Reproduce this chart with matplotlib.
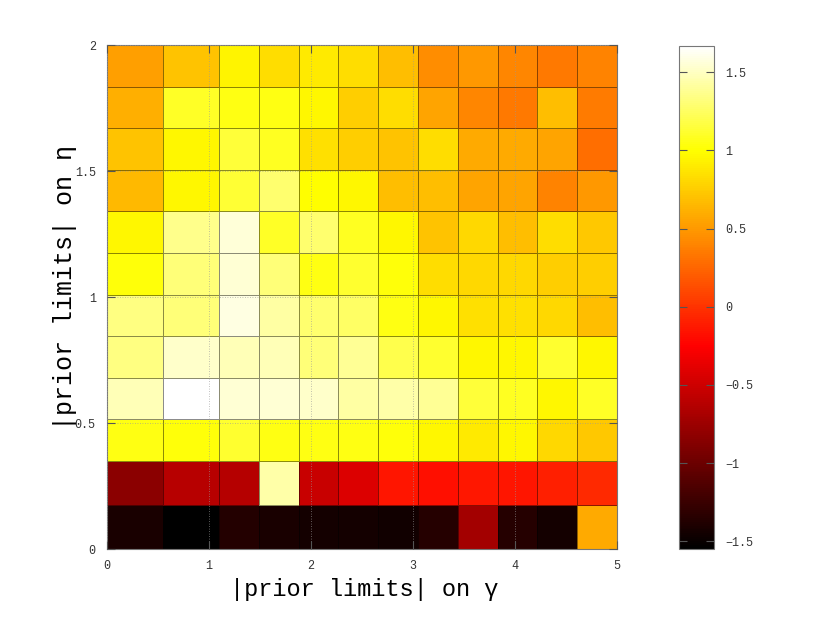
import numpy as np
import matplotlib
matplotlib.use("Agg")
import matplotlib.pyplot as plt
from matplotlib.colors import LinearSegmentedColormap, Normalize

# cell edges
gamma_edges = [0, 0.55, 1.1, 1.49, 1.88, 2.27, 2.66, 3.05, 3.44, 3.83, 4.22, 4.61, 5.0]
eta_edges = [0, 0.175, 0.35, 0.515, 0.68, 0.845, 1.01, 1.175, 1.34, 1.505, 1.67, 1.835, 2.0]

# values, bottom row first (eta 0 -> 2), columns gamma 0 -> 5
row0 = [-1.42, -1.55, -1.37, -1.42, -1.44, -1.44, -1.45, -1.35, -0.71, -1.35, -1.44, 0.58]
row1 = [-0.84, -0.61, -0.63, 1.44, -0.53, -0.43, -0.15, -0.18, -0.13, -0.15, -0.10, -0.05]
row2 = [1.05, 1.02, 1.12, 1.05, 1.05, 1.05, 1.02, 0.96, 0.90, 0.96, 0.80, 0.73]
row3 = [1.47, 1.667, 1.55, 1.55, 1.52, 1.42, 1.44, 1.39, 1.15, 1.08, 0.96, 1.10]
row4 = [1.33, 1.52, 1.47, 1.47, 1.31, 1.39, 1.20, 1.12, 0.96, 0.96, 1.12, 0.96]
row5 = [1.33, 1.31, 1.58, 1.42, 1.28, 1.26, 1.05, 0.96, 0.85, 0.85, 0.80, 0.68]
row6 = [1.02, 1.31, 1.55, 1.31, 1.05, 1.12, 1.02, 0.83, 0.80, 0.80, 0.75, 0.75]
row7 = [0.96, 1.36, 1.56, 1.10, 1.28, 1.08, 0.96, 0.71, 0.80, 0.68, 0.83, 0.73]
row8 = [0.66, 0.96, 1.13, 1.28, 1.00, 0.96, 0.68, 0.68, 0.56, 0.56, 0.39, 0.49]
row9 = [0.71, 0.96, 1.15, 1.08, 0.85, 0.75, 0.71, 0.83, 0.58, 0.58, 0.56, 0.29]
row10 = [0.61, 1.10, 1.05, 1.05, 0.96, 0.75, 0.83, 0.56, 0.41, 0.34, 0.68, 0.36]
row11 = [0.53, 0.71, 0.95, 0.83, 0.90, 0.83, 0.68, 0.44, 0.49, 0.41, 0.34, 0.39]

Z = np.array([row0, row1, row2, row3, row4, row5, row6, row7,
              row8, row9, row10, row11])

vmin, vmax = -1.55, 1.667

# gnuplot-like hot palette
cmap = LinearSegmentedColormap.from_list(
    "gphot",
    [(0.0, (0, 0, 0)), (0.404, (1, 0, 0)), (0.793, (1, 1, 0)), (1.0, (1, 1, 1))])
norm = Normalize(vmin=vmin, vmax=vmax)

fig = plt.figure(figsize=(8.22, 6.17), dpi=100)
ax = fig.add_axes([0.130, 0.110, 0.6206, 0.8169])

mesh = ax.pcolormesh(gamma_edges, eta_edges, Z, cmap=cmap, norm=norm,
                     edgecolors=(0, 0, 0, 0.45), linewidth=0.6)

ax.set_xlim(0, 5)
ax.set_ylim(0, 2)
ax.set_xticks([0, 1, 2, 3, 4, 5])
ax.set_yticks([0, 0.5, 1, 1.5, 2])
ax.set_xticklabels(["0", "1", "2", "3", "4", "5"])
ax.set_yticklabels(["0", "0.5", "1", "1.5", "2"])
ax.tick_params(direction="in", length=6, width=0.8, top=True, right=True,
               labelsize=8.5, labelcolor="#333333", color="#555555", pad=8)
for lab in ax.get_xticklabels() + ax.get_yticklabels():
    lab.set_family("Liberation Mono")
ax.set_axisbelow(False)
ax.grid(True, linestyle=(0, (1, 2)), color="#999999", linewidth=0.6, alpha=0.8)
for sp in ax.spines.values():
    sp.set_color("#777777")
    sp.set_linewidth(0.8)

ax.set_xlabel("|prior limits| on \u03b3", family="Liberation Mono", fontsize=17,
              va="center")
ax.xaxis.set_label_coords(0.504, -0.081)
ax.set_ylabel("|prior limits| on \u03b7", family="Liberation Mono", fontsize=18,
              va="center")
ax.yaxis.set_label_coords(-0.082, 0.52)

# colorbar
cax = fig.add_axes([0.826, 0.110, 0.0426, 0.8153])
sm = plt.cm.ScalarMappable(cmap=cmap, norm=norm)
cb = fig.colorbar(sm, cax=cax)
cb.set_ticks([-1.5, -1, -0.5, 0, 0.5, 1, 1.5])
cb.set_ticklabels(["\u22121.5", "\u22121", "\u22120.5", "0", "0.5", "1", "1.5"])
cax.tick_params(direction="in", length=6, width=0.8, left=True, right=True,
                labelsize=8.5, labelcolor="#333333", color="#555555", pad=8)
for lab in cax.get_yticklabels():
    lab.set_family("Liberation Mono")
cb.outline.set_edgecolor("#777777")
cb.outline.set_linewidth(0.8)

fig.savefig("out.png", dpi=100)
